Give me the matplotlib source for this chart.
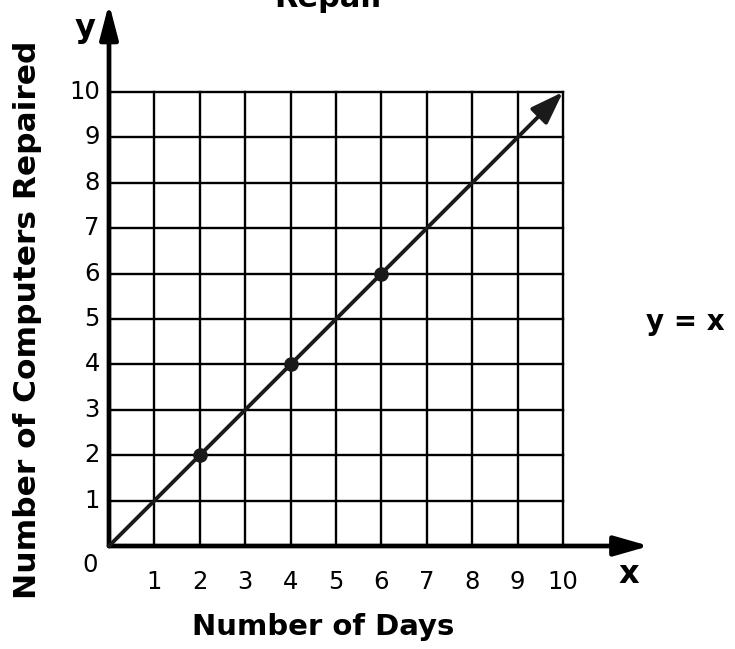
import matplotlib
matplotlib.use("Agg")
import matplotlib.pyplot as plt

days = [0, 10]
computers = [0, 10]
pts_x = [2, 4, 6]
pts_y = [2, 4, 6]
xticks = [1, 2, 3, 4, 5, 6, 7, 8, 9, 10]
yticks = [1, 2, 3, 4, 5, 6, 7, 8, 9, 10]

plt.rcParams['font.family'] = ['DejaVu Sans']

W, H = 735, 649
fig = plt.figure(figsize=(W / 100, H / 100), dpi=100)
x0, y0, x1, y1 = 109, 546, 563, 92
ax = fig.add_axes([x0 / W, (H - y0) / H, (x1 - x0) / W, (y0 - y1) / H])
ax.set_xlim(0, 10)
ax.set_ylim(0, 10)
for s in ax.spines.values():
    s.set_visible(False)
ax.set_xticks([])
ax.set_yticks([])

# grid
for v in range(1, 11):
    ax.plot([v, v], [0, 10], color='black', lw=1.7, clip_on=False, zorder=2)
    ax.plot([0, 10], [v, v], color='black', lw=1.7, clip_on=False, zorder=2)

# axes arrows
ax.annotate('', xy=(11.9, 0), xytext=(0, 0), xycoords='data',
            arrowprops=dict(arrowstyle='-|>,head_length=2.1,head_width=0.6', color='black', lw=3.4,
                            shrinkA=0, shrinkB=0), annotation_clip=False, zorder=4)
ax.annotate('', xy=(0, 11.95), xytext=(0, 0), xycoords='data',
            arrowprops=dict(arrowstyle='-|>,head_length=2.1,head_width=0.55', color='black', lw=3.4,
                            shrinkA=0, shrinkB=0), annotation_clip=False, zorder=4)

# line y = x with arrow
ax.annotate('', xy=(computers[1], computers[1]), xytext=(days[0], computers[0]),
            arrowprops=dict(arrowstyle='-|>,head_length=2.0,head_width=0.7', color='#1a1a1a', lw=2.8,
                            shrinkA=0, shrinkB=0), annotation_clip=False, zorder=5)
ax.plot(pts_x, pts_y, 'o', color='#1a1a1a', ms=9.5, zorder=6, clip_on=False)

# tick labels
for v in xticks:
    ax.text(v, -0.8, str(v), ha='center', va='center', fontsize=17.5)
for v in yticks:
    ax.text(-0.2, v, str(v), ha='right', va='center', fontsize=17.5)
ax.text(-0.42, -0.42, '0', ha='center', va='center', fontsize=17.5)

ax.text(-0.52, 11.4, 'y', ha='center', va='center', fontsize=23, fontweight='bold')
ax.text(11.45, -0.62, 'x', ha='center', va='center', fontsize=23, fontweight='bold')

fig.text(685 / W, 1 - 322 / H, 'y = x', ha='center', va='center', fontsize=20, fontweight='bold')
fig.text(323 / W, 1 - 627 / H, 'Number of Days', ha='center', va='center', fontsize=21, fontweight='bold')
fig.text(28 / W, 1 - 320 / H, 'Number of Computers Repaired', ha='center', va='center',
         rotation=90, fontsize=22.5, fontweight='bold')
fig.text(330 / W, 1 - 7 / H, 'Repair', ha='center', va='baseline', fontsize=22, fontweight='bold')

fig.savefig('out.png', dpi=100)
